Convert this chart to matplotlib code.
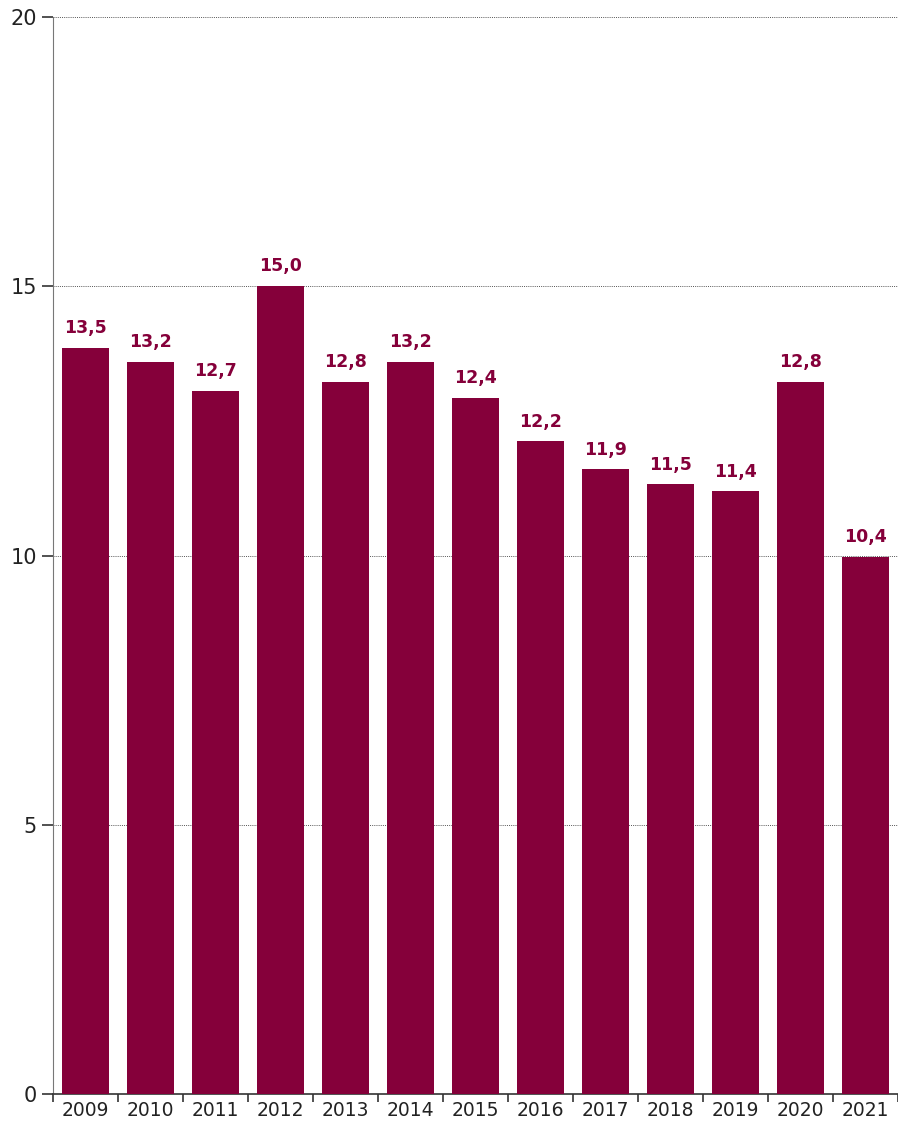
import matplotlib.pyplot as plt
import numpy as np

years = ["2009", "2010", "2011", "2012", "2013", "2014", "2015",
         "2016", "2017", "2018", "2019", "2020", "2021"]
# bar heights as drawn in the picture
heights = [13.85, 13.59, 13.05, 15.0, 13.23, 13.59, 12.92,
           12.12, 11.60, 11.32, 11.19, 13.23, 9.98]
# printed value labels
labels = ["13,5", "13,2", "12,7", "15,0", "12,8", "13,2", "12,4",
          "12,2", "11,9", "11,5", "11,4", "12,8", "10,4"]

bar_color = "#85003A"
text_color = "#222222"

fig = plt.figure(figsize=(8.98, 11.22), dpi=100)
ax = fig.add_axes([53 / 898, 28 / 1122, 845 / 898, 1077 / 1122])

x = np.arange(len(years))
bars = ax.bar(x, heights, width=0.72, color=bar_color, zorder=3)

for bar, lab in zip(bars, labels):
    ax.text(bar.get_x() + bar.get_width() / 2, bar.get_height() + 0.2, lab,
            ha="center", va="bottom", fontsize=12.5, fontweight="bold",
            color=bar_color)

ax.set_xlim(-0.5, len(years) - 0.5)
ax.set_ylim(0, 20)
ax.set_yticks([0, 5, 10, 15, 20])
ax.set_xticks(x)
ax.set_xticklabels(years)
ax.set_xticks(np.arange(-0.5, len(years), 1), minor=True)
ax.tick_params(axis="x", which="major", length=0, pad=5, labelsize=13.5,
               labelcolor=text_color)
ax.tick_params(axis="x", which="minor", length=6, width=1.2, color="#333333")
ax.tick_params(axis="y", length=8, width=1.2, color="#333333", pad=3.5,
               labelsize=15, labelcolor=text_color)

ax.grid(axis="y", linestyle=(0, (1, 1.2)), color="#555555", linewidth=0.7,
        zorder=0)
ax.spines["top"].set_visible(False)
ax.spines["right"].set_visible(False)
ax.spines["left"].set_color("#777777")
ax.spines["bottom"].set_color("#333333")
ax.spines["bottom"].set_linewidth(1.2)

fig.savefig("out.png", dpi=100)
